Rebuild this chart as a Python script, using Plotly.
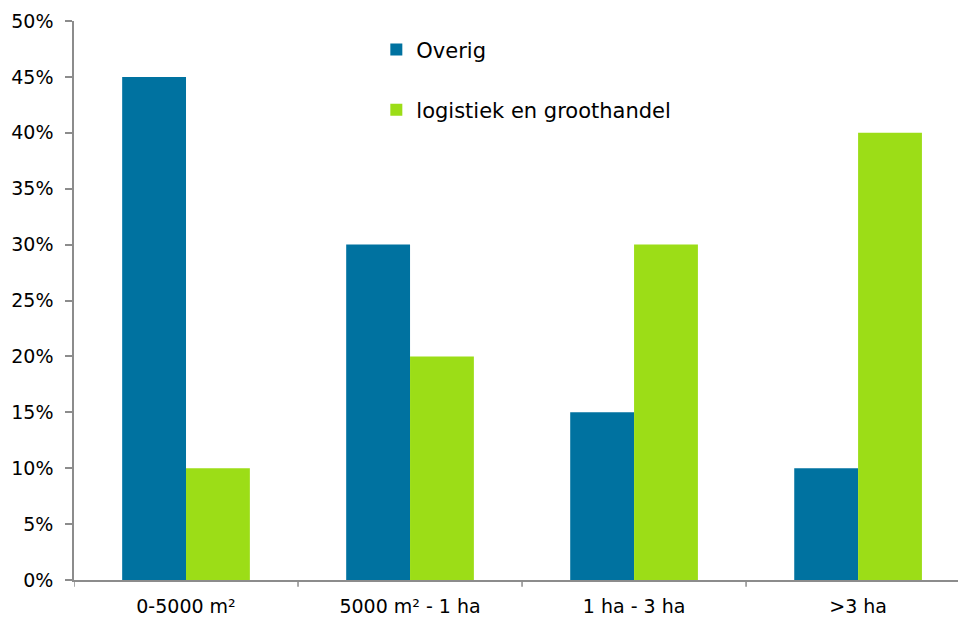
import plotly.graph_objects as go

categories = ["0-5000 m²", "5000 m² - 1 ha", "1 ha - 3 ha", ">3 ha"]
overig = [45, 30, 15, 10]
logistiek = [10, 20, 30, 40]
series_names = ["Overig", "logistiek en groothandel"]
y_ticks = [0, 5, 10, 15, 20, 25, 30, 35, 40, 45, 50]
y_labels = [f"{v}%" for v in y_ticks]

BLUE = "#0072a0"
GREEN = "#9cdd17"
FONT = "DejaVu Sans"

fig = go.Figure()
fig.add_trace(go.Bar(x=categories, y=overig, name=series_names[0],
                     marker=dict(color=BLUE, line=dict(width=0)), legendgroup="a"))
fig.add_trace(go.Bar(x=categories, y=logistiek, name=series_names[1],
                     marker=dict(color=GREEN, line=dict(width=0)), legendgroup="b"))

fig.update_layout(
    width=958, height=619,
    margin=dict(l=74, r=0, t=21, b=39),
    paper_bgcolor="white", plot_bgcolor="white",
    barmode="group", bargap=0.43, bargroupgap=0,
    font=dict(family=FONT, size=19, color="#000000"),
    legend=dict(x=0.342, y=0.985, xanchor="left", yanchor="top",
                font=dict(family=FONT, size=21, color="#000000"),
                tracegroupgap=30, bgcolor="rgba(0,0,0,0)"),
    xaxis=dict(
        type="category", range=[-0.5, 3.446],
        showline=True, linecolor="#8c8c8c", linewidth=1.5,
        ticks="", showgrid=False, zeroline=False,
        tickfont=dict(family=FONT, size=19),
        ticklabelstandoff=8,
    ),
    yaxis=dict(
        range=[0, 50], tickvals=y_ticks, ticktext=y_labels,
        showline=True, linecolor="#8c8c8c", linewidth=1.5,
        ticks="outside", ticklen=7, tickcolor="#8c8c8c", tickwidth=1.5,
        showgrid=False, zeroline=False,
        tickfont=dict(family=FONT, size=19),
        ticklabelstandoff=8,
    ),
)

# boundary tick marks between categories on the x-axis
for b in [-0.5, 0.5, 1.5, 2.5]:
    fig.add_shape(type="line", xref="x", yref="paper", x0=b, x1=b, y0=0, y1=-0.012,
                  line=dict(color="#8c8c8c", width=1.5))

fig.write_html("out.html")
